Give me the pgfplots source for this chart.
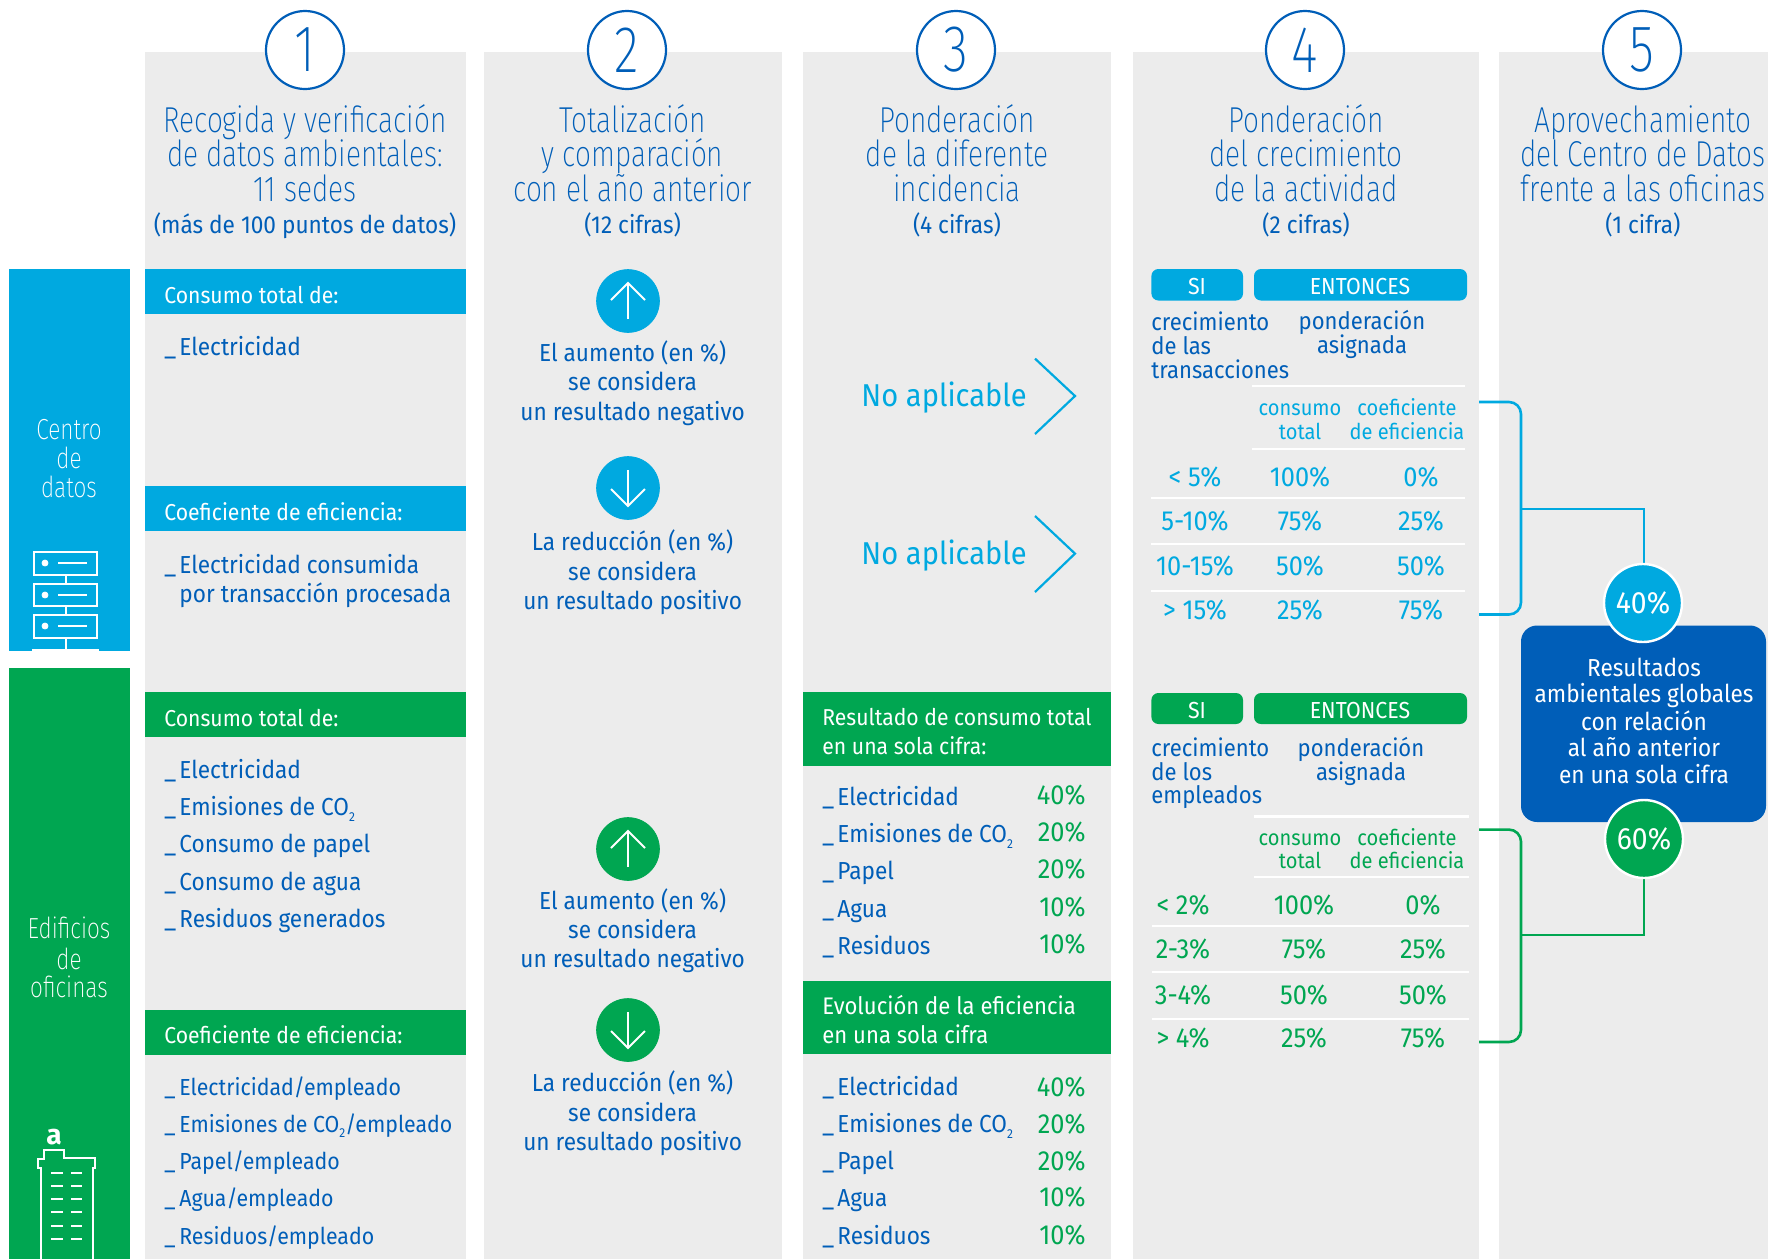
\documentclass[border=0pt]{standalone}
\usepackage{pgfplots}
\usepackage{pgfplotstable}
\usepackage{fontspec}
\pgfplotsset{compat=1.18}
\setmainfont{Fira Sans}
\newfontfamily\lt[FakeStretch=0.78]{Fira Sans ExtraLight}
\newfontfamily\bd[FakeStretch=0.92]{Fira Sans}
\definecolor{tb}{HTML}{005EB8}
\definecolor{cy}{HTML}{00A9E0}
\definecolor{gr}{HTML}{00A651}
\definecolor{pn}{HTML}{ECECEC}
\newcommand\T[6]{\node[anchor=#3,text=#5,font=#4,inner sep=0pt,yshift=-2.1pt] at (axis cs:#1,#2) {#6};}
\newcommand\Tt[6]{\node[anchor=#3,text=#5,font=#4,inner sep=0pt,yshift=-4pt] at (axis cs:#1,#2) {#6};}
\newcommand\Tc[6]{\node[anchor=#3,text=#5,font=#4,inner sep=0pt] at (axis cs:#1,#2) {#6};}
\newcommand\R[5]{\addplot[fill=#5,draw=none] coordinates {(#1,#2) (#3,#2) (#3,#4) (#1,#4)} -- cycle;}
\newcommand\RR[5]{\addplot[fill=#5,draw=none,rounded corners=3.5pt] coordinates {(#1,#2) (#3,#2) (#3,#4) (#1,#4)} -- cycle;}
\newcommand\W[3]{\addplot[white,line width=1.2pt] coordinates {(#1,#3) (#2,#3)};}
\newcommand\CO{CO\raisebox{-0.45ex}{\fontsize{6.5}{7}\selectfont 2}}
\newcommand\U{\makebox[7.5pt][l]{\_}}
\newcommand\ft{\lt\fontsize{18}{20}\selectfont}
\newcommand\fb{\bd\fontsize{12.3}{14}\selectfont}
\newcommand\fc{\bd\fontsize{11.6}{14}\selectfont}
\newcommand\fh{\bd\fontsize{11.5}{14}\selectfont}
\newcommand\fe{\bd\fontsize{11.6}{14}\selectfont}
\newcommand\fs{\bd\fontsize{10.9}{13}\selectfont}
\newcommand\fp{\bd\fontsize{12}{14}\selectfont}
\newcommand\fl{\bd\fontsize{15.8}{18}\selectfont}
\newcommand\fm{\lt\fontsize{14.5}{16}\selectfont}
\newcommand\fn{\lt\fontsize{33}{34}\selectfont}
\newcommand\fd{\bd\fontsize{13.8}{16}\selectfont}
\newcommand\fk{\bd\fontsize{15.4}{16}\selectfont}
\pgfplotstableread{
x y v
1086 795 40
1086 832 20
1086 869 20
1086 906.6 10
1086 944 10
1086 1087 40
1086 1124 20
1086 1161 20
1086 1197.5 10
1086 1235 10
}\tabweights
\pgfplotstableread{
x y v
1300 477 100
1421 477 0
1300 521.5 75
1421 521.5 25
1300 566 50
1421 566 50
1300 610.5 25
1421 610.5 75
}\tabtrans
\pgfplotstableread{
x y v
1304 905 100
1423 905 0
1304 949.5 75
1423 949.5 25
1304 994.6 50
1423 994.6 50
1304 1038.5 25
1423 1038.5 75
}\tabempl
\pgfplotsset{canvas/.style={scale only axis,width=884pt,height=629.5pt,xmin=0,xmax=1768,ymin=0,ymax=1259,y dir=reverse,axis lines=none,clip=true,/pgf/number format/assume math mode=true},
pct/.style 2 args={only marks,mark=*,mark size=0pt,draw=none,
  point meta=explicit,nodes near coords={\pgfmathprintnumber{\pgfplotspointmeta}\%},
  every node near coord/.append style={anchor=#2,inner sep=0pt,text=#1,font=\fd,yshift=-2.1pt}}}
\begin{document}
\begin{tikzpicture}
\begin{axis}[canvas]
\R{0}{0}{1768}{1259}{white}
% panels
\R{145}{52}{466}{1259}{pn}
\R{484}{52}{782}{1259}{pn}
\R{803}{52}{1111}{1259}{pn}
\R{1133}{52}{1479}{1259}{pn}
\R{1499}{52}{1768}{1259}{pn}
% left tabs
\R{9}{269}{130}{651}{cy}
\R{9}{668}{130}{1259}{gr}
% header bars
\R{145}{269}{466}{314}{cy}
\R{145}{486}{466}{531}{cy}
\R{145}{692}{466}{737}{gr}
\R{145}{1010}{466}{1055}{gr}
\R{803}{692}{1111}{766}{gr}
\R{803}{981}{1111}{1054}{gr}
% pills
\RR{1151.4}{269}{1243}{300.5}{cy}
\RR{1254}{269}{1467}{300.5}{cy}
\RR{1151.4}{693}{1243}{724}{gr}
\RR{1254}{693}{1467}{724}{gr}
% table rules
\W{1252}{1465}{386}
\W{1252}{1465}{449}
\W{1151}{1465}{498}
\W{1151}{1465}{544}
\W{1151}{1465}{591}
\W{1254}{1469}{816.6}
\W{1254}{1469}{877}
\W{1152}{1469}{926}
\W{1152}{1469}{972}
\W{1152}{1469}{1019}
% brackets
\addplot[cy,line width=1.3pt,rounded corners=6pt] coordinates {(1479,402) (1521,402) (1521,614.5) (1479,614.5)};
\addplot[cy,line width=1.1pt] coordinates {(1521,509) (1644,509) (1644,575)};
\addplot[gr,line width=1.3pt,rounded corners=6pt] coordinates {(1479,829.6) (1521,829.6) (1521,1042) (1479,1042)};
\addplot[gr,line width=1.1pt] coordinates {(1521,935) (1644,935) (1644,860)};
% result box
\addplot[fill=tb,draw=none,rounded corners=8pt] coordinates {(1521,625.5) (1766,625.5) (1766,822) (1521,822)} -- cycle;
% circles
\addplot[only marks,mark=*,mark size=19.5pt,mark options={fill=white,draw=tb,line width=1.1pt}] coordinates {(305,50) (627,50) (956,50) (1305,50) (1642,50)};
\addplot[only marks,mark=*,mark size=15.7pt,mark options={fill=cy,draw=cy}] coordinates {(628,301) (628,488)};
\addplot[only marks,mark=*,mark size=15.7pt,mark options={fill=gr,draw=gr}] coordinates {(628,849) (628,1030)};
\addplot[only marks,mark=*,mark size=19.5pt,mark options={fill=cy,draw=white,line width=1.2pt}] coordinates {(1643,603)};
\addplot[only marks,mark=*,mark size=19.5pt,mark options={fill=gr,draw=white,line width=1.2pt}] coordinates {(1644,839)};
\end{axis}
\begin{axis}[canvas]
% server icon
\addplot[white,line width=1pt] coordinates {(34,552) (97,552) (97,574.5) (34,574.5)} -- cycle;
\addplot[white,line width=1pt] coordinates {(34,584) (97,584) (97,606) (34,606)} -- cycle;
\addplot[white,line width=1pt] coordinates {(34,615) (97,615) (97,637.6) (34,637.6)} -- cycle;
\addplot[white,line width=1pt] coordinates {(58,563) (87,563)};
\addplot[white,line width=1pt] coordinates {(58,595) (87,595)};
\addplot[white,line width=1pt] coordinates {(58,626) (87,626)};
\addplot[only marks,mark=*,mark size=1.5pt,mark options={fill=white,draw=white}] coordinates {(45,563) (45,595) (45,626)};
\addplot[white,line width=1pt] coordinates {(66,574.5) (66,584)};
\addplot[white,line width=1pt] coordinates {(66,606) (66,615)};
\addplot[white,line width=1pt] coordinates {(66,637.6) (66,650)};
\addplot[white,line width=1pt] coordinates {(32,650) (99,650)};
% building icon
\addplot[white,line width=1pt] coordinates {(41,1259) (41,1168) (38,1168) (38,1158.5) (44,1158.5) (44,1150) (64,1150) (64,1158) (95,1158) (95,1168) (93,1168) (93,1259)};
\addplot[white,line width=1pt,dash pattern=on 6pt off 4pt] coordinates {(51,1173) (82,1173)};
\addplot[white,line width=1pt,dash pattern=on 6pt off 4pt] coordinates {(51,1186) (82,1186)};
\addplot[white,line width=1pt,dash pattern=on 6pt off 4pt] coordinates {(51,1199) (82,1199)};
\addplot[white,line width=1pt,dash pattern=on 6pt off 4pt] coordinates {(51,1212) (82,1212)};
\addplot[white,line width=1pt,dash pattern=on 6pt off 4pt] coordinates {(51,1226) (82,1226)};
\addplot[white,line width=1pt,dash pattern=on 6pt off 4pt] coordinates {(51,1239) (82,1239)};
% arrows
\addplot[white,line width=1pt] coordinates {(628,319) (628,283)};
\addplot[white,line width=1pt] coordinates {(611,300) (628,283) (645,300)};
\addplot[white,line width=1pt] coordinates {(628,470) (628,506)};
\addplot[white,line width=1pt] coordinates {(611,489) (628,506) (645,489)};
\addplot[white,line width=1pt] coordinates {(628,867) (628,831)};
\addplot[white,line width=1pt] coordinates {(611,848) (628,831) (645,848)};
\addplot[white,line width=1pt] coordinates {(628,1012) (628,1048)};
\addplot[white,line width=1pt] coordinates {(611,1031) (628,1048) (645,1031)};
% chevrons
\addplot[cy,line width=1.1pt] coordinates {(1035,358.6) (1075,396) (1035,434)};
\addplot[cy,line width=1.1pt] coordinates {(1035,516) (1075,553.6) (1035,592)};
% tables of percentages
\addplot[pct={gr}{mid east}] table[x=x,y=y,meta=v] {\tabweights};
\addplot[pct={cy}{mid}] table[x=x,y=y,meta=v] {\tabtrans};
\addplot[pct={gr}{mid}] table[x=x,y=y,meta=v] {\tabempl};
% numbers
\Tc{305}{50}{center}{\fn}{tb}{1}
\Tc{627}{50}{center}{\fn}{tb}{2}
\Tc{956}{50}{center}{\fn}{tb}{3}
\Tc{1305}{50}{center}{\fn}{tb}{4}
\Tc{1642}{50}{center}{\fn}{tb}{5}
% titles
\Tt{305}{119.5}{mid}{\ft}{tb}{Recogida y verificación}
\Tt{305}{153.5}{mid}{\ft}{tb}{de datos ambientales:}
\Tt{305}{188}{mid}{\ft}{tb}{11 sedes}
\T{305}{224}{mid}{\fb}{tb}{(más de 100 puntos de datos)}
\Tt{632.6}{119.5}{mid}{\ft}{tb}{Totalización}
\Tt{632.6}{153.5}{mid}{\ft}{tb}{y comparación}
\Tt{632.6}{188}{mid}{\ft}{tb}{con el año anterior}
\T{632.6}{224}{mid}{\fb}{tb}{(12 cifras)}
\Tt{957}{119.5}{mid}{\ft}{tb}{Ponderación}
\Tt{957}{153.5}{mid}{\ft}{tb}{de la diferente}
\Tt{957}{188}{mid}{\ft}{tb}{incidencia}
\T{957}{224}{mid}{\fb}{tb}{(4 cifras)}
\Tt{1306}{119.5}{mid}{\ft}{tb}{Ponderación}
\Tt{1306}{153.5}{mid}{\ft}{tb}{del crecimiento}
\Tt{1306}{188}{mid}{\ft}{tb}{de la actividad}
\T{1306}{224}{mid}{\fb}{tb}{(2 cifras)}
\Tt{1643}{119.5}{mid}{\ft}{tb}{Aprovechamiento}
\Tt{1643}{153.5}{mid}{\ft}{tb}{del Centro de Datos}
\Tt{1643}{188}{mid}{\ft}{tb}{frente a las oficinas}
\T{1643}{224}{mid}{\fb}{tb}{(1 cifra)}
% left labels
\T{69}{430}{mid}{\fm}{white}{Centro}
\T{69}{459}{mid}{\fm}{white}{de}
\T{69}{488}{mid}{\fm}{white}{datos}
\T{69}{929}{mid}{\fm}{white}{Edificios}
\T{69}{959.6}{mid}{\fm}{white}{de}
\T{69}{988}{mid}{\fm}{white}{oficinas}
\Tc{54}{1137}{center}{\bfseries\fontsize{14}{14}\selectfont}{white}{a}
% col 1 text
\T{164}{294}{mid west}{\fh}{white}{Consumo total de:}
\T{164}{346}{mid west}{\fb}{tb}{\U Electricidad}
\T{164}{511}{mid west}{\fh}{white}{Coeficiente de eficiencia:}
\T{164}{564}{mid west}{\fb}{tb}{\U Electricidad consumida}
\T{179}{593}{mid west}{\fb}{tb}{por transacción procesada}
\T{164}{717}{mid west}{\fh}{white}{Consumo total de:}
\T{164}{769}{mid west}{\fb}{tb}{\U Electricidad}
\T{164}{806}{mid west}{\fb}{tb}{\U Emisiones de \CO}
\T{164}{843.5}{mid west}{\fb}{tb}{\U Consumo de papel}
\T{164}{880.6}{mid west}{\fb}{tb}{\U Consumo de agua}
\T{164}{918}{mid west}{\fb}{tb}{\U Residuos generados}
\T{164}{1034}{mid west}{\fh}{white}{Coeficiente de eficiencia:}
\T{164}{1086}{mid west}{\fc}{tb}{\U Electricidad/empleado}
\T{164}{1123}{mid west}{\fc}{tb}{\U Emisiones de \CO/empleado}
\T{164}{1160}{mid west}{\fc}{tb}{\U Papel/empleado}
\T{164}{1197.5}{mid west}{\fc}{tb}{\U Agua/empleado}
\T{164}{1235}{mid west}{\fc}{tb}{\U Residuos/empleado}
% col 2
\T{632.6}{352}{mid}{\fb}{tb}{El aumento (en \%)}
\T{632.6}{381}{mid}{\fb}{tb}{se considera}
\T{632.6}{411.5}{mid}{\fb}{tb}{un resultado negativo}
\T{632.6}{541}{mid}{\fb}{tb}{La reducción (en \%)}
\T{632.6}{570.6}{mid}{\fb}{tb}{se considera}
\T{632.6}{600}{mid}{\fb}{tb}{un resultado positivo}
\T{632.6}{900}{mid}{\fb}{tb}{El aumento (en \%)}
\T{632.6}{929}{mid}{\fb}{tb}{se considera}
\T{632.6}{958.5}{mid}{\fb}{tb}{un resultado negativo}
\T{632.6}{1082.5}{mid}{\fb}{tb}{La reducción (en \%)}
\T{632.6}{1112}{mid}{\fb}{tb}{se considera}
\T{632.6}{1141}{mid}{\fb}{tb}{un resultado positivo}
% col 3
\Tt{861}{393.5}{mid west}{\fl}{cy}{No aplicable}
\Tt{861}{551}{mid west}{\fl}{cy}{No aplicable}
\T{822}{716}{mid west}{\fh}{white}{Resultado de consumo total}
\T{822}{745}{mid west}{\fh}{white}{en una sola cifra:}
\T{822}{1004.7}{mid west}{\fp}{white}{Evolución de la eficiencia}
\T{822}{1034}{mid west}{\fp}{white}{en una sola cifra}
\T{822}{796}{mid west}{\fb}{tb}{\U Electricidad}
\T{822}{833}{mid west}{\fb}{tb}{\U Emisiones de \CO}
\T{822}{870.5}{mid west}{\fb}{tb}{\U Papel}
\T{822}{908}{mid west}{\fb}{tb}{\U Agua}
\T{822}{945}{mid west}{\fb}{tb}{\U Residuos}
\T{822}{1086}{mid west}{\fb}{tb}{\U Electricidad}
\T{822}{1123}{mid west}{\fb}{tb}{\U Emisiones de \CO}
\T{822}{1160}{mid west}{\fb}{tb}{\U Papel}
\T{822}{1197.5}{mid west}{\fb}{tb}{\U Agua}
\T{822}{1235}{mid west}{\fb}{tb}{\U Residuos}
% col 4
\T{1197}{285}{mid}{\fe}{white}{SI}
\T{1360}{285}{mid}{\fe}{white}{ENTONCES}
\T{1197}{709}{mid}{\fe}{white}{SI}
\T{1360}{709}{mid}{\fe}{white}{ENTONCES}
\T{1151}{321}{mid west}{\fp}{tb}{crecimiento}
\T{1151}{345}{mid west}{\fp}{tb}{de las}
\T{1151}{369}{mid west}{\fp}{tb}{transacciones}
\T{1362}{320}{mid}{\fp}{tb}{ponderación}
\T{1362}{344}{mid}{\fp}{tb}{asignada}
\T{1151}{747}{mid west}{\fp}{tb}{crecimiento}
\T{1151}{771}{mid west}{\fp}{tb}{de los}
\T{1151}{794}{mid west}{\fp}{tb}{empleados}
\T{1361}{747}{mid}{\fp}{tb}{ponderación}
\T{1361}{771}{mid}{\fp}{tb}{asignada}
\T{1300}{406}{mid}{\fs}{cy}{consumo}
\T{1300}{430}{mid}{\fs}{cy}{total}
\T{1407}{406}{mid}{\fs}{cy}{coeficiente}
\T{1407}{430}{mid}{\fs}{cy}{de eficiencia}
\T{1300}{836}{mid}{\fs}{gr}{consumo}
\T{1300}{859.4}{mid}{\fs}{gr}{total}
\T{1407}{836}{mid}{\fs}{gr}{coeficiente}
\T{1407}{859.4}{mid}{\fs}{gr}{de eficiencia}
\T{1195}{477}{mid}{\fd}{cy}{< 5\%}
\T{1195}{521.5}{mid}{\fd}{cy}{5-10\%}
\T{1195}{566}{mid}{\fd}{cy}{10-15\%}
\T{1195}{610.5}{mid}{\fd}{cy}{> 15\%}
\T{1183}{905}{mid}{\fd}{gr}{< 2\%}
\T{1183}{949.5}{mid}{\fd}{gr}{2-3\%}
\T{1183}{994.6}{mid}{\fd}{gr}{3-4\%}
\T{1183}{1038.5}{mid}{\fd}{gr}{> 4\%}
% result
\Tc{1643}{603}{center}{\fk}{white}{40\%}
\Tc{1644}{839}{center}{\fk}{white}{60\%}
\T{1644}{667}{mid}{\fb}{white}{Resultados}
\T{1644}{693.5}{mid}{\fb}{white}{ambientales globales}
\T{1644}{721}{mid}{\fb}{white}{con relación}
\T{1644}{747}{mid}{\fb}{white}{al año anterior}
\T{1644}{774}{mid}{\fb}{white}{en una sola cifra}
\end{axis}
\end{tikzpicture}
\end{document}
